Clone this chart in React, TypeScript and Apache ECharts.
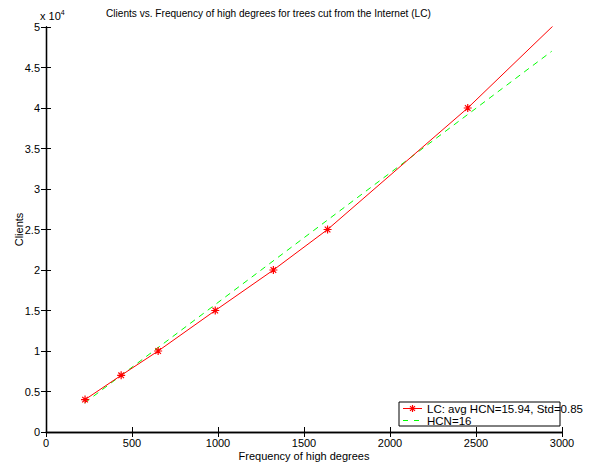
import React, { useEffect, useRef } from "react";
import * as echarts from "echarts";

const lcX = [227, 437, 652, 984, 1322, 1637, 2452, 3000];
const lcY = [4000, 7000, 10000, 15000, 20000, 25000, 40000, 51200];
const hcnX = [225, 2940];
const hcnY = [3600, 47000];
const yTicks = [0, 0.5, 1, 1.5, 2, 2.5, 3, 3.5, 4, 4.5, 5];

const TITLE = "Clients vs. Frequency of high degrees for trees cut from the Internet (LC)";
const LC_NAME = "LC: avg HCN=15.94, Std=0.85";
const HCN_NAME = "HCN=16";

const FONT = "Liberation Sans, Arial, Helvetica, sans-serif";
const STAR = "path://M0,-5L0,5M-5,0L5,0M-3.5,-3.5L3.5,3.5M-3.5,3.5L3.5,-3.5";

function starLines(cx: number, cy: number, r: number, color: string) {
  const d = r * 0.7;
  const segs = [
    [cx - r, cy, cx + r, cy],
    [cx, cy - r, cx, cy + r],
    [cx - d, cy - d, cx + d, cy + d],
    [cx - d, cy + d, cx + d, cy - d],
  ];
  return segs.map((s) => ({
    type: "line",
    shape: { x1: s[0], y1: s[1], x2: s[2], y2: s[3] },
    style: { stroke: color, lineWidth: 1.2 },
    z: 101,
  }));
}

export default function App() {
  const ref = useRef<HTMLDivElement>(null);
  useEffect(() => {
    const chart = echarts.init(ref.current!, null, { renderer: "svg" });
    const lcData = lcX.map((x, i) => ({
      value: [x, lcY[i]],
      symbol: i === lcX.length - 1 ? "none" : STAR,
    }));
    const hcnData = hcnX.map((x, i) => [x, hcnY[i]]);
    const axisCommon = {
      axisLine: { show: true, lineStyle: { color: "#000", width: 1.3 } },
      axisTick: { show: true, inside: true, length: 5, lineStyle: { color: "#000" } },
      splitLine: { show: false },
    };
    chart.setOption({
      animation: false,
      backgroundColor: "#fff",
      textStyle: { fontFamily: FONT },
      title: {
        text: TITLE,
        left: 106,
        top: 8,
        padding: 0,
        textStyle: { fontSize: 10.1, fontWeight: "normal", color: "#000", fontFamily: FONT },
      },
      grid: { left: 46, right: 29, top: 27, bottom: 34, show: false },
      xAxis: [
        {
          type: "value",
          min: 0,
          max: 3000,
          interval: 500,
          position: "bottom",
          name: "Frequency of high degrees",
          nameLocation: "middle",
          nameGap: 18,
          nameMoveOverlap: false,
          nameTextStyle: { fontSize: 11, color: "#000", fontFamily: FONT },
          axisLabel: { fontSize: 11, color: "#000", margin: 5, fontFamily: FONT, formatter: (v: number) => String(v) },
          ...axisCommon,
        },
        {
          type: "value",
          min: 0,
          max: 3000,
          interval: 500,
          position: "top",
          axisLabel: { show: false },
          ...axisCommon,
        },
      ],
      yAxis: [
        {
          type: "value",
          min: 0,
          max: 50000,
          interval: 5000,
          position: "left",
          name: "Clients",
          nameLocation: "middle",
          nameGap: 22,
          nameMoveOverlap: false,
          nameRotate: 90,
          nameTextStyle: { fontSize: 11, color: "#000", fontFamily: FONT },
          axisLabel: {
            fontSize: 11,
            color: "#000",
            margin: 6,
            fontFamily: FONT,
            formatter: (v: number) => {
              const t = v / 10000;
              return yTicks.includes(t) ? String(t) : "";
            },
          },
          ...axisCommon,
        },
        {
          type: "value",
          min: 0,
          max: 50000,
          interval: 5000,
          position: "right",
          axisLabel: { show: false },
          ...axisCommon,
        },
      ],
      graphic: [
        {
          type: "text",
          left: 40,
          top: 9,
          style: {
            text: "x 10{sup|4}",
            fontSize: 11,
            fill: "#000",
            fontFamily: FONT,
            rich: { sup: { fontSize: 7, verticalAlign: "top", padding: [0, 0, 6, 0], fontFamily: FONT } },
          },
        },
        {
          type: "rect",
          shape: { x: 399, y: 402, width: 161, height: 24 },
          style: { fill: "#fff", stroke: "#000", lineWidth: 1 },
          z: 100,
        },
        {
          type: "line",
          shape: { x1: 403, y1: 408.5, x2: 422, y2: 408.5 },
          style: { stroke: "#ff0000", lineWidth: 1 },
          z: 101,
        },
        ...starLines(412.5, 408.5, 3.5, "#ff0000"),
        {
          type: "line",
          shape: { x1: 403, y1: 420.5, x2: 422, y2: 420.5 },
          style: { stroke: "#00ff00", lineWidth: 1, lineDash: [5, 6] },
          z: 101,
        },
        {
          type: "text",
          x: 427,
          y: 408.5,
          style: { text: LC_NAME, fontSize: 11.5, fill: "#000", fontFamily: FONT, verticalAlign: "middle" },
          z: 101,
        },
        {
          type: "text",
          x: 427,
          y: 420.5,
          style: { text: HCN_NAME, fontSize: 11.5, fill: "#000", fontFamily: FONT, verticalAlign: "middle" },
          z: 101,
        },
      ],
      series: [
        {
          name: LC_NAME,
          type: "line",
          data: lcData,
          clip: true,
          symbol: STAR,
          symbolSize: 8,
          lineStyle: { color: "#ff0000", width: 1 },
          itemStyle: { color: "#ff0000", borderColor: "#ff0000", borderWidth: 1.2 },
          z: 3,
        },
        {
          name: HCN_NAME,
          type: "line",
          data: hcnData,
          symbol: "none",
          lineStyle: { color: "#00ff00", width: 1, type: [6, 5] },
          itemStyle: { color: "#00ff00" },
          z: 2,
        },
      ],
    });
    return () => chart.dispose();
  }, []);
  return <div ref={ref} style={{ width: 591, height: 466, position: "absolute", left: 0, top: 0 }} />;
}
